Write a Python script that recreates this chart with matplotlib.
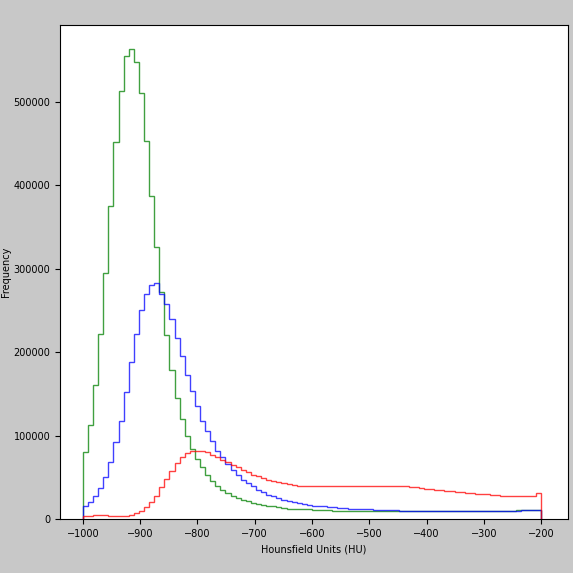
import matplotlib
matplotlib.use('Agg')
import matplotlib.pyplot as plt
import numpy as np

# 90 bins between -1000 and -200 HU
edges = np.linspace(-1000, -200, 91)

# counts per bin (thousands)
green = [80, 113, 160, 222, 295, 375, 452, 513, 555, 563,
         548, 510, 453, 387, 326, 272, 220, 178, 145, 120,
         100, 84, 72, 62, 53, 46, 40, 35, 31, 28,
         25, 23, 21, 19.5, 18, 17, 16, 15, 14, 13.5,
         12.5, 12, 12, 11.5, 11.5, 11, 11, 10.5, 10.5, 10,
         10, 10, 10, 9.5, 9.5, 9.5, 9.5, 9.5, 9, 9,
         9, 9, 9, 9, 9, 9, 9, 9, 9, 9,
         9, 9, 9, 9, 9, 9, 9, 9.5, 9.5, 9.5,
         9.5, 10, 10, 10, 10, 10.5, 10.5, 10.5, 11, 11]
blue = [15, 20, 27, 37, 50, 68, 92, 118, 152, 188,
        222, 250, 270, 280, 283, 270, 258, 240, 217, 195,
        173, 153, 135, 118, 105, 93, 82, 74, 66, 59,
        53, 47, 43, 39, 35, 32, 29, 27, 25, 23,
        21, 20, 19, 18, 17, 16, 15.5, 15, 14.5, 14,
        13.5, 13, 12.5, 12, 12, 11.5, 11.5, 11, 11, 10.5,
        10.5, 10.5, 10, 10, 10, 10, 9.5, 9.5, 9.5, 9.5,
        9, 9, 9, 9, 9, 9, 9, 9, 9, 9,
        9, 9, 9.5, 9.5, 10, 10, 10.5, 10.5, 11, 11]
red = [3, 4, 5, 5, 5, 4, 4, 4, 4, 5,
       7, 10, 14, 20, 28, 38, 48, 58, 67, 74,
       79, 81, 82, 82, 80, 77, 74, 71, 68, 65,
       62, 59, 56, 53, 51, 49, 47, 45, 44, 43,
       42, 41, 40, 40, 39.5, 39, 39, 39, 39, 39,
       39, 39, 39, 39, 39, 39, 39, 39, 39, 39,
       39, 39, 39, 39, 38.5,
       38, 37, 36.5, 36, 35, 34.5, 34, 33, 32.5, 32,
       31.5, 31, 30.5, 30, 29.5, 29, 28.5, 28, 28, 28,
       28, 28, 28, 28, 31]

fig = plt.figure(figsize=(5.73, 5.73), dpi=100, facecolor='#c8c8c8')
ax = fig.add_axes([60 / 573, 54 / 573, 508 / 573, 494 / 573])

for vals, col in [(green, 'green'), (blue, 'blue'), (red, 'red')]:
    ax.stairs(np.array(vals) * 1000, edges, color=col, alpha=0.75, linewidth=1)

ax.set_xlim(-1040, -153)
ax.set_ylim(0, 592000)
ax.set_xticks(np.arange(-1000, -100, 100))
ax.set_xlabel('Hounsfield Units (HU)', fontsize=7)
ax.set_ylabel('Frequency', fontsize=7, labelpad=2)
ax.tick_params(labelsize=7)

plt.savefig('out.png', dpi=100, facecolor=fig.get_facecolor())
